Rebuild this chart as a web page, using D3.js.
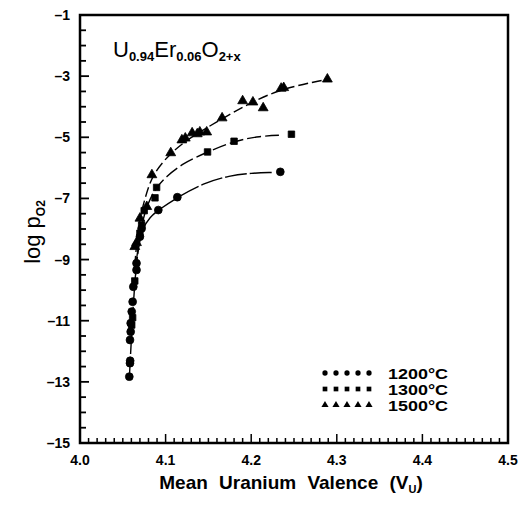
<!DOCTYPE html>
<html>
<head>
<meta charset="utf-8">
<script src="https://cdn.jsdelivr.net/npm/d3@7"></script>
<style>
  body { margin: 0; background: #fff; }
  svg text { font-family: "Liberation Sans", Arial, sans-serif; fill: #000; }
</style>
</head>
<body>
<div id="chart"></div>
<script>
// data: [mean U valence, log pO2]
var pts1200 = [[4.0576,-12.83],[4.0584,-12.39],[4.0586,-12.31],[4.0584,-11.63],[4.0592,-11.36],[4.0592,-11.08],
  [4.0604,-10.70],[4.0615,-10.38],[4.0623,-9.89],[4.066,-9.34],[4.066,-9.12],[4.070,-8.25],[4.072,-7.98],
  [4.0915,-7.38],[4.1137,-6.96],[4.234,-6.13]];
var pts1300 = [[4.0604,-11.14],[4.0615,-10.9],[4.064,-9.7],[4.070,-8.14],[4.072,-7.87],[4.075,-7.4],
  [4.0876,-6.98],[4.0895,-6.64],[4.149,-5.48],[4.180,-5.13],[4.247,-4.9]];
var pts1500 = [[4.064,-8.58],[4.066,-8.45],[4.070,-7.65],[4.078,-7.27],[4.084,-6.23],[4.106,-5.51],
  [4.119,-5.09],[4.123,-5.03],[4.131,-4.86],[4.137,-4.89],[4.140,-4.83],[4.148,-4.83],[4.166,-4.37],
  [4.190,-3.81],[4.202,-3.85],[4.214,-4.04],[4.235,-3.40],[4.238,-3.38],[4.289,-3.10]];

// fitted curves
var fit1200 = [[4.0576,-12.9],[4.062,-10.5],[4.066,-9.0],[4.072,-8.0],[4.082,-7.6],[4.0915,-7.38],[4.114,-6.96],
  [4.144,-6.5],[4.175,-6.25],[4.20,-6.17],[4.225,-6.15]];
var fit1300 = [[4.066,-9.0],[4.070,-8.2],[4.075,-7.5],[4.082,-7.0],[4.0895,-6.64],[4.10,-6.3],[4.12,-5.85],
  [4.149,-5.48],[4.18,-5.12],[4.21,-4.96],[4.237,-4.93]];
var fit1500 = [[4.064,-9.2],[4.066,-8.5],[4.070,-7.6],[4.076,-7.0],[4.084,-6.23],[4.106,-5.5],[4.13,-4.98],
  [4.166,-4.4],[4.20,-3.85],[4.237,-3.4],[4.286,-3.12]];

var xTicks = [4.0, 4.1, 4.2, 4.3, 4.4, 4.5];
var yTicks = [-1, -3, -5, -7, -9, -11, -13, -15];
var legendLabels = ["1200°C", "1300°C", "1500°C"];

var W = 519, H = 506,
    m = {left: 80, top: 15, right: 11, bottom: 63},
    w = W - m.left - m.right, h = H - m.top - m.bottom;

var x = d3.scaleLinear().domain([4.0, 4.5]).range([0, w]),
    y = d3.scaleLinear().domain([-15, -1]).range([h, 0]);

var svg = d3.select('#chart').append('svg').attr('width', W).attr('height', H);
var g = svg.append('g').attr('transform', 'translate(' + m.left + ',' + m.top + ')');

// frame
g.append('rect').attr('width', w).attr('height', h).attr('fill', 'none').attr('stroke', '#000').attr('stroke-width', 2.5);

// inward ticks
var xMinor = d3.range(0, 51).map(function(i) { return 4.0 + i * 0.01; });
g.selectAll('.xt').data(xMinor).enter().append('line')
  .attr('x1', function(d) { return x(d); }).attr('x2', function(d) { return x(d); })
  .attr('y1', h).attr('y2', function(d, i) { return h - (i % 10 == 0 ? 9 : 5); })
  .attr('stroke', '#000').attr('stroke-width', 1.5);
var yMinor = d3.range(0, 29).map(function(i) { return -15 + i * 0.5; });
g.selectAll('.yt').data(yMinor).enter().append('line')
  .attr('y1', function(d) { return y(d); }).attr('y2', function(d) { return y(d); })
  .attr('x1', 0).attr('x2', function(d, i) { return i % 4 == 0 ? 9 : 6; })
  .attr('stroke', '#000').attr('stroke-width', 1.8);

// tick labels
g.selectAll('.xl').data(xTicks).enter().append('text')
  .attr('x', function(d) { return x(d); }).attr('y', h + 22)
  .attr('text-anchor', 'middle').style('font-size', '14px').style('font-weight', 'bold')
  .text(function(d) { return d3.format('.1f')(d); });
g.selectAll('.yl').data(yTicks).enter().append('text')
  .attr('x', -10).attr('y', function(d) { return y(d) + 5; })
  .attr('text-anchor', 'end').style('font-size', '14px').style('font-weight', 'bold')
  .text(function(d) { return '\u2013' + Math.abs(d); });

// axis titles
var xt = svg.append('text').attr('x', 291).attr('y', 489).attr('text-anchor', 'middle')
  .style('font-size', '19px').style('font-weight', 'bold').style('word-spacing', '6px');
xt.append('tspan').text('Mean Uranium Valence (V');
xt.append('tspan').attr('dy', 4).style('font-size', '11px').text('U');
xt.append('tspan').attr('dy', -4).text(')');

var yt = svg.append('text').attr('transform', 'translate(40,232) rotate(-90)').attr('text-anchor', 'middle')
  .style('font-size', '22px');
yt.append('tspan').text('log  p');
yt.append('tspan').attr('dy', 5).style('font-size', '12px').style('font-weight', 'bold').text('O2');

// compound label
var cl = g.append('text').attr('x', 33).attr('y', 42).style('font-size', '22px');
cl.append('tspan').text('U');
cl.append('tspan').attr('dy', 4).style('font-size', '13px').style('font-weight', 'bold').text('0.94');
cl.append('tspan').attr('dy', -4).text('Er');
cl.append('tspan').attr('dy', 4).style('font-size', '13px').style('font-weight', 'bold').text('0.06');
cl.append('tspan').attr('dy', -4).text('O');
cl.append('tspan').attr('dy', 4).style('font-size', '13px').style('font-weight', 'bold').text('2+x');

// fit curves
var line = d3.line().x(function(d) { return x(d[0]); }).y(function(d) { return y(d[1]); }).curve(d3.curveBasis);
var fits = [[fit1200, '22,3'], [fit1300, '14,4'], [fit1500, '10,4']];
g.selectAll('.fit').data(fits).enter().append('path')
  .attr('d', function(d) { return line(d[0]); })
  .attr('fill', 'none').attr('stroke', '#000').attr('stroke-width', 1.4)
  .attr('stroke-dasharray', function(d) { return d[1]; });

// markers
var sym = [d3.symbolCircle, d3.symbolSquare, d3.symbolTriangle],
    symSize = [48, 42, 42];
function drawPts(data, k) {
  g.selectAll('.p' + k).data(data).enter().append('path')
    .attr('transform', function(d) { return 'translate(' + x(d[0]) + ',' + y(d[1]) + ')'; })
    .attr('d', d3.symbol().type(sym[k]).size(symSize[k]))
    .attr('fill', '#000').attr('stroke', '#000').attr('stroke-width', 0.8).attr('stroke-linejoin', 'round');
}
drawPts(pts1200, 0);
drawPts(pts1300, 1);
drawPts(pts1500, 2);

// legend
var lg = g.selectAll('.lg').data(legendLabels).enter().append('g')
  .attr('transform', function(d, i) { return 'translate(245,' + (358 + i * 16) + ')'; });
lg.each(function(d, k) {
  d3.select(this).selectAll('path').data(d3.range(5)).enter().append('path')
    .attr('transform', function(j) { return 'translate(' + (j * 11) + ',0)'; })
    .attr('d', d3.symbol().type(sym[k]).size(22))
    .attr('fill', '#000');
});
lg.append('text').attr('x', 63).attr('y', 6).style('font-size', '15px').style('font-weight', 'bold')
  .attr('textLength', 60).attr('lengthAdjust', 'spacingAndGlyphs')
  .text(function(d) { return d; });
</script>
</body>
</html>
